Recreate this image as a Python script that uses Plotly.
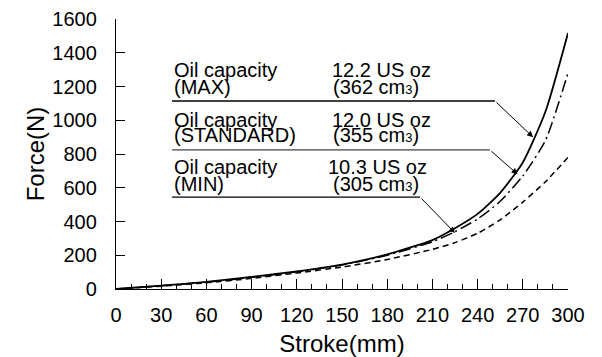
import plotly.graph_objects as go

# ---------------------------------------------------------
# Damper force vs stroke for three oil capacities
# ---------------------------------------------------------

stroke = [0, 30, 60, 90, 120, 150, 180, 210, 225, 240, 255, 270, 285, 300]
force_max = [0, 20, 42, 72, 105, 145, 205, 290, 360, 445, 570, 750, 1050, 1517]
force_std = [0, 19, 40, 69, 102, 142, 200, 280, 340, 415, 520, 670, 880, 1280]
force_min = [0, 17, 37, 63, 95, 130, 175, 235, 275, 330, 410, 515, 635, 780]

x_ticks = [0, 30, 60, 90, 120, 150, 180, 210, 240, 270, 300]
y_ticks = [0, 200, 400, 600, 800, 1000, 1200, 1400, 1600]

labels = ["(MAX)", "(STANDARD)", "(MIN)"]
amounts = ["12.2 US oz", "12.0 US oz", "10.3 US oz"]
volumes = ["362", "355", "305"]

FONT = "Liberation Sans, Arial, sans-serif"

fig = go.Figure()

fig.add_trace(go.Scatter(x=stroke, y=force_max, mode="lines", line_shape="spline",
                         line=dict(color="black", width=1.8, smoothing=0.6)))
fig.add_trace(go.Scatter(x=stroke, y=force_std, mode="lines", line_shape="spline",
                         line=dict(color="black", width=1.5, smoothing=0.6,
                                   dash="12px,4px,2px,4px")))
fig.add_trace(go.Scatter(x=stroke, y=force_min, mode="lines", line_shape="spline",
                         line=dict(color="black", width=1.5, smoothing=0.6,
                                   dash="6px,4px")))

# label blocks: (first line y, second line y, rule y, rule end x, arrow tip x, arrow tip y)
blocks = [
    (1298, 1197, 1114, 251.5, 276.8, 900),
    (1001, 912, 824, 248.2, 266.5, 680),
    (723, 625, 545, 201.8, 225.0, 332),
]

for i, (y1, y2, yr, xe, xt, yt) in enumerate(blocks):
    fig.add_annotation(x=37.2, y=y1, text="Oil capacity", showarrow=False,
                       xanchor="left", yanchor="middle")
    fig.add_annotation(x=37.2, y=y2, text=labels[i], showarrow=False,
                       xanchor="left", yanchor="middle")
    fig.add_annotation(x=142 if i < 2 else 139.5, y=y1, text=amounts[i], showarrow=False,
                       xanchor="left", yanchor="middle")
    fig.add_annotation(x=142.5, y=y2,
                       text="(" + volumes[i] + " cm<span style='font-size:13px'>3</span>)",
                       showarrow=False, xanchor="left", yanchor="middle")
    fig.add_shape(type="line", x0=37.2, x1=xe, y0=yr, y1=yr,
                  line=dict(color="black" if i != 1 else "#444", width=1.3))
    fig.add_annotation(x=xt, y=yt, ax=xe, ay=yr, axref="x", ayref="y",
                       text="", showarrow=True, arrowhead=2, arrowsize=1.2,
                       arrowwidth=1, arrowcolor="black", standoff=0)

# the page adds an 8px body margin, so the figure is sized to fit inside it
fig.update_layout(
    width=594,
    height=349,
    margin=dict(l=108, r=34, t=11, b=68),
    plot_bgcolor="white",
    paper_bgcolor="white",
    showlegend=False,
    font=dict(family=FONT, size=20, color="black"),
)

fig.update_xaxes(
    range=[0, 300],
    tickvals=x_ticks,
    ticks="inside",
    ticklen=10,
    tickcolor="black",
    showline=True,
    linecolor="black",
    linewidth=1.3,
    showgrid=False,
    zeroline=False,
    automargin=False,
    minor=dict(dtick=10, ticks="inside", ticklen=5, tickcolor="black"),
    title=dict(text="Stroke(mm)", standoff=16),
    ticklabelstandoff=8,
)

fig.update_yaxes(
    range=[0, 1600],
    tickvals=y_ticks,
    ticks="inside",
    ticklen=9,
    tickcolor="black",
    showline=True,
    linecolor="black",
    linewidth=1.3,
    showgrid=False,
    zeroline=False,
    automargin=False,
    title=dict(text="Force(N)", standoff=0),
    ticklabelstandoff=14,
)

fig.write_html("out.html")
